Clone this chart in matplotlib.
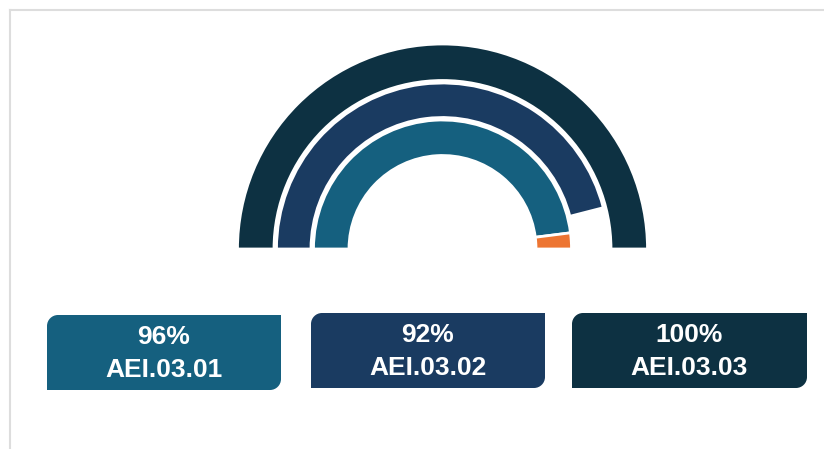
import numpy as np
import matplotlib
matplotlib.use('Agg')
import matplotlib.pyplot as plt
from matplotlib.patches import Wedge, PathPatch
from matplotlib.path import Path

# data
labels = ['AEI.03.01', 'AEI.03.02', 'AEI.03.03']
values = [96, 92, 100]
colors = ['#15607f', '#1a3b61', '#0d3142']
rest_colors = ['#ed7532', None, None]

# gauge geometry in pixels
cx, cy = 442.5, 249
radii = [(93.5, 129), (131.5, 166), (168.5, 205)]


def leaf_box(x0, y0, x1, y1, r):
    # rounded top-left and bottom-right corners only (y grows downward)
    k = 0.5523 * r
    verts = [(x0, y0 + r),
             (x0, y0 + r - k), (x0 + r - k, y0), (x0 + r, y0),
             (x1, y0),
             (x1, y1 - r),
             (x1, y1 - r + k), (x1 - r + k, y1), (x1 - r, y1),
             (x0, y1),
             (x0, y0 + r)]
    codes = [Path.MOVETO,
             Path.CURVE4, Path.CURVE4, Path.CURVE4,
             Path.LINETO,
             Path.LINETO,
             Path.CURVE4, Path.CURVE4, Path.CURVE4,
             Path.LINETO,
             Path.CLOSEPOLY]
    return Path(verts, codes)


def main():
    plt.rcParams['font.family'] = ['Liberation Sans', 'DejaVu Sans']
    fig = plt.figure(figsize=(8.24, 4.49), dpi=100)
    ax = fig.add_axes([0, 0, 1, 1])
    ax.set_xlim(0, 824)
    ax.set_ylim(449, 0)
    ax.set_aspect('auto')
    ax.axis('off')

    # frame lines top and left
    ax.plot([10.5, 824], [9.5, 9.5], color='#dddddd', lw=1.5)
    ax.plot([10.5, 10.5], [9.5, 449], color='#dddddd', lw=1.5)

    for (r0, r1), v, c, rc in zip(radii, values, colors, rest_colors):
        split = 180 - 180 * v / 100.0
        # y axis is inverted, so angles are mirrored: use negative angles
        ax.add_patch(Wedge((cx, cy), r1, -180, -split, width=r1 - r0,
                           facecolor=c, edgecolor='white', lw=2))
        if rc is not None and v < 100:
            ax.add_patch(Wedge((cx, cy), r1, -split, 0, width=r1 - r0,
                               facecolor=rc, edgecolor='white', lw=2))

    # cover below baseline
    ax.add_patch(plt.Rectangle((cx - 220, cy), 440, 10, facecolor='white',
                               edgecolor='none', zorder=3))

    boxes = [(47, 315, 281, 390), (311, 313, 545, 388), (572, 313, 807, 388)]
    for (x0, y0, x1, y1), v, lab, c in zip(boxes, values, labels, colors):
        ax.add_patch(PathPatch(leaf_box(x0, y0, x1, y1, 11), facecolor=c,
                               edgecolor='none', zorder=4))
        xm = (x0 + x1) / 2
        ax.text(xm, y0 + 22, '{}%'.format(v), color='white', fontsize=19,
                fontweight='bold', ha='center', va='center', zorder=5)
        ax.text(xm, y0 + 55, lab, color='white', fontsize=19,
                fontweight='bold', ha='center', va='center', zorder=5)

    fig.savefig('out.png', dpi=100, facecolor='white')


if __name__ == '__main__':
    main()
